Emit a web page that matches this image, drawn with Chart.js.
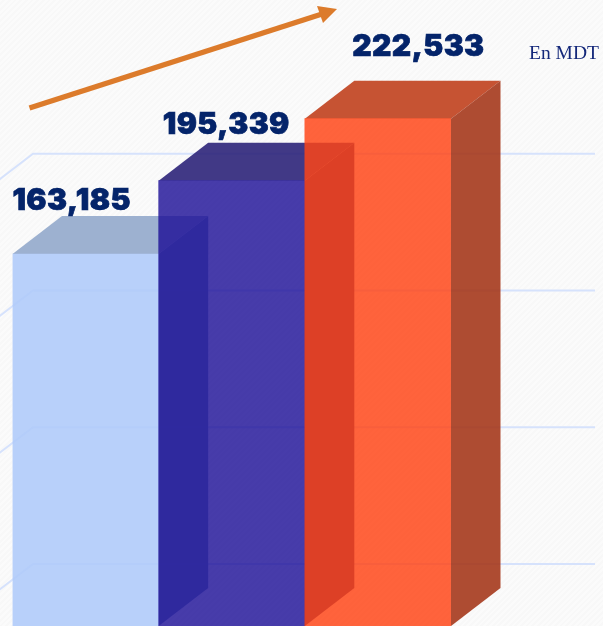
<!DOCTYPE html>
<html>
<head>
<meta charset="utf-8">
<title>En MDT</title>
<script src="https://cdn.jsdelivr.net/npm/chart.js@4/dist/chart.umd.min.js"></script>
<style>
  html, body { margin: 0; padding: 0; overflow: hidden; }
  body { background: repeating-linear-gradient(135deg, #fbfbfb 0 2px, #f8f8f8 2px 4px); }
  #wrap { position: relative; width: 603px; height: 626px; }
</style>
</head>
<body>
<div id="wrap"><canvas id="chart"></canvas></div>
<script>
const categories = ['Annee 1', 'Annee 2', 'Annee 3'];
const values = [163185, 195339, 222533];
const gridValues = [27200, 87200, 147200, 207200];
const unitLabel = 'En MDT';

const frontColors = ['rgba(176,203,250,0.9)', 'rgba(30,17,151,0.82)', 'rgba(255,68,21,0.835)'];
const topColors = ['rgba(146,168,203,0.9)', 'rgba(44,36,121,0.9)', 'rgba(192,64,29,0.9)'];
const sideColors = ['rgba(110,140,185,0.9)', 'rgba(30,25,110,0.9)', 'rgba(165,57,28,0.9)'];

// depth of the fake 3d boxes
const depthX = 49.5;
const depthY = 38;

// labels are not centred on the bars in the original
const labelShiftX = [-14, -5.5, 40.5];
const labelShiftY = [-44, -47, -63];
const labelSizes = [30, 30, 30];
const labelSpacing = ['0.4px', '0.4px', '0.4px'];

function poly(ctx, pts, color) {
  ctx.fillStyle = color;
  ctx.beginPath();
  pts.forEach((p, i) => {
    if (i === 0) ctx.moveTo(p[0], p[1]);
    else ctx.lineTo(p[0], p[1]);
  });
  ctx.closePath();
  ctx.fill();
}

const boxPlugin = {
  id: 'box3d',
  beforeDatasetsDraw(chart) {
    const ctx = chart.ctx;
    const y = chart.scales.y;
    ctx.save();
    ctx.strokeStyle = '#d6e2fc';
    ctx.lineWidth = 2;
    gridValues.forEach(v => {
      const py = y.getPixelForValue(v);
      ctx.beginPath();
      ctx.moveTo(-1, py + 26);
      ctx.lineTo(33, py);
      ctx.lineTo(595, py);
      ctx.stroke();
    });
    ctx.restore();
  },
  beforeDatasetDraw(chart, args) {
    const ctx = chart.ctx;
    const i = args.index;
    const bar = args.meta.data[i];
    const left = bar.x - bar.width / 2;
    const right = bar.x + bar.width / 2;
    const top = bar.y;
    const bottom = bar.base;
    ctx.save();
    poly(ctx, [[left, top], [left + depthX, top - depthY], [right + depthX, top - depthY], [right, top]], topColors[i]);
    poly(ctx, [[right, top], [right + depthX, top - depthY], [right + depthX, bottom - depthY], [right, bottom]], sideColors[i]);
    ctx.restore();
  },
  afterDatasetsDraw(chart) {
    const ctx = chart.ctx;
    ctx.save();

    // value labels, a thin stroke makes them as heavy as the original
    ctx.fillStyle = '#04246a';
    ctx.strokeStyle = '#04246a';
    ctx.lineWidth = 0.7;
    ctx.textAlign = 'center';
    ctx.textBaseline = 'alphabetic';
    values.forEach((v, i) => {
      const bar = chart.getDatasetMeta(i).data[i];
      const text = v.toLocaleString('en-US');
      ctx.font = '900 ' + labelSizes[i] + 'px Inter, "DejaVu Sans", sans-serif';
      ctx.letterSpacing = labelSpacing[i];
      ctx.fillText(text, bar.x + labelShiftX[i], bar.y + labelShiftY[i]);
      ctx.strokeText(text, bar.x + labelShiftX[i], bar.y + labelShiftY[i]);
    });
    ctx.letterSpacing = '0px';

    // unit
    ctx.fillStyle = '#14287a';
    ctx.textAlign = 'left';
    ctx.font = '19.5px "Liberation Serif", serif';
    ctx.fillText(unitLabel, 529, 59);

    // trend arrow
    ctx.strokeStyle = '#dc7b2b';
    ctx.lineWidth = 5.5;
    ctx.beginPath();
    ctx.moveTo(29.5, 108);
    ctx.lineTo(322, 14);
    ctx.stroke();
    poly(ctx, [[337, 9], [317, 6], [323, 23]], '#dc7b2b');
    ctx.restore();
  }
};

new Chart(document.getElementById('chart').getContext('2d'), {
  type: 'bar',
  data: {
    labels: categories,
    datasets: values.map((v, i) => ({
      label: categories[i],
      data: categories.map((c, j) => (j === i ? v : null)),
      backgroundColor: frontColors[i],
      borderWidth: 0,
      grouped: false,
      barPercentage: 1,
      categoryPercentage: 1,
      order: values.length - i,
    })),
  },
  options: {
    responsive: true,
    maintainAspectRatio: false,
    animation: false,
    layout: { padding: { left: 12.5, right: 152, top: 0, bottom: 0 } },
    plugins: {
      legend: { display: false },
      tooltip: { enabled: false },
    },
    scales: {
      x: { display: false },
      y: { display: false, min: 0, max: 274600 },
    },
  },
  plugins: [boxPlugin],
});
</script>
</body>
</html>
